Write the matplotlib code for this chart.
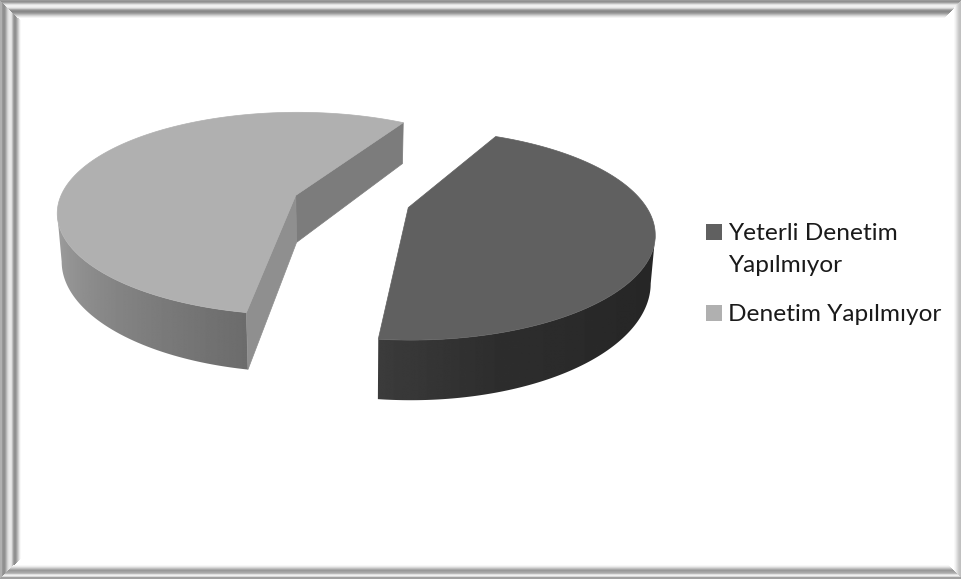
import numpy as np
import matplotlib
matplotlib.use('Agg')
import matplotlib.pyplot as plt
from matplotlib.patches import Polygon, Rectangle

labels = ['Yeterli Denetim\nYapılmıyor', 'Denetim Yapılmıyor']
values = [44, 56]
top_colors = ['#606060', '#b0b0b0']

# frame greys, from the picture edge inwards
frame_left = [0xb0, 0xb0, 0x98, 0x90, 0x90, 0xa0, 0xb8, 0xd0, 0xe0, 0xe8, 0xe8, 0xe0, 0xc0, 0xa0, 0x90, 0x90, 0xa0, 0xb8, 0xd0, 0xe8, 0xf8]
frame_top = [0x9a, 0x90, 0xa0, 0xc0, 0xe0, 0xf0, 0xf0, 0xe8, 0xd0, 0xa8, 0x90, 0x88, 0x90, 0xa0, 0xb8, 0xd0, 0xe4, 0xf4]
frame_right = [0xc0, 0xc0, 0xc4, 0xcc, 0xd8, 0xe4, 0xf0, 0xf8]
frame_bottom = [0xa0, 0xa0, 0xd8, 0xf0, 0xe0, 0xb8, 0xa8, 0xa0, 0x98, 0xa8, 0xc0, 0xd8, 0xec, 0xf8]

# scene, in image pixels
W, H = 962, 579
cx, cy = 352, 201.5
explode_x, explode_y = 58.6, 22
rx, ry = 236.5, 98
skew = -0.008
start_angle = 27
# the two slices sit at different places in the view, so they differ a bit
persp = [0.26, 0.18]
depth = [44.5, 47]
view_turn = [0, 4.5]


def project(i, u, v, ox, oy, bottom=False):
    # pie disc coordinates -> pixels
    w = 1 + persp[i] * v + skew * u
    x = ox + rx * u / w
    y = oy - ry * v / w
    if bottom:
        x = x + (cx - x) * 0.015
        y = y + depth[i] / w
    return x, y


def wall_gray(i, ang):
    # side shading, angle clockwise from top
    if i == 0:
        return np.interp(ang, [100, 130, 165, 186], [0x26, 0x27, 0x2e, 0x3c])
    return np.interp(ang, [190, 262], [0x6c, 0xa4])


fig = plt.figure(figsize=(9.62, 5.79), dpi=100)
ax = fig.add_axes([0, 0, 1, 1])


def band(x, y, w, h, g):
    c = str(g / 255)
    ax.add_patch(Rectangle((x, y), w, h, fc=c, ec='none', antialiased=False))


for k, g in enumerate(frame_left):
    band(k, k, 1, H - 2 * k, g)
for k, g in enumerate(frame_top):
    band(k, k, W - 2 * k, 1, g)
for k, g in enumerate(frame_right):
    band(W - 1 - k, k, 1, H - 2 * k, g)
for k, g in enumerate(frame_bottom):
    band(k, H - 1 - k, W - 2 * k, 1, g)

fractions = np.array(values) / sum(values)
a0 = start_angle
for i, frac in enumerate(fractions):
    a1 = a0 + frac * 360
    mid = np.radians((a0 + a1) / 2)
    ox = cx + explode_x * np.sin(mid)
    oy = cy - explode_y * np.cos(mid)
    ang = np.linspace(a0, a1, 400) + view_turn[i]
    u = np.sin(np.radians(ang))
    v = np.cos(np.radians(ang))
    tx, ty = project(i, u, v, ox, oy)
    bx, by = project(i, u, v, ox, oy, bottom=True)
    apex_t = project(i, 0, 0, ox, oy)
    apex_b = project(i, 0, 0, ox, oy, bottom=True)

    # cut faces only show on the left slice
    if ox < cx:
        ax.add_patch(Polygon([apex_t, (tx[-1], ty[-1]), (bx[-1], by[-1]), apex_b],
                             fc='#7c7c7c', ec='#7c7c7c', lw=0.5))
        ax.add_patch(Polygon([apex_t, (tx[0], ty[0]), (bx[0], by[0]), apex_b],
                             fc='#8f8f8f', ec='#8f8f8f', lw=0.5))

    # outer wall from the cut to the widest point, gradient clipped to its shape
    if ox < cx:
        front = np.arange(len(ang)) <= np.argmin(tx)
    else:
        front = np.arange(len(ang)) >= np.argmax(tx)
    fx = tx[front]
    order = np.argsort(fx)
    xs = np.arange(np.floor(fx.min()) - 2, np.ceil(fx.max()) + 3)
    grays = np.interp(xs, fx[order], wall_gray(i, ang[front][order]))
    wall = Polygon(list(zip(tx[front], ty[front])) + list(zip(bx[front][::-1], by[front][::-1])),
                   fc='none', ec='none', transform=ax.transData)
    ax.add_patch(wall)
    ext = (xs[0], xs[-1], by[front].max() + 2, ty[front].min() - 2)
    im = ax.imshow(grays[None, :], cmap='gray', vmin=0, vmax=255, extent=ext, aspect='auto', interpolation='bilinear')
    im.set_clip_path(wall)

    ax.add_patch(Polygon([apex_t] + list(zip(tx, ty)), fc=top_colors[i], ec=top_colors[i], lw=0.5, zorder=3))
    a0 = a1

# legend
font = ['Lato', 'DejaVu Sans']
ax.add_patch(Rectangle((706, 224), 16, 16, fc=top_colors[0], ec='none'))
ax.add_patch(Rectangle((706, 305), 16, 16, fc=top_colors[1], ec='none'))
line1, line2 = labels[0].split('\n')
ax.text(728, 240.5, line1, fontsize=17.6, color='#1a1a1a', family=font, va='baseline')
ax.text(728, 272, line2, fontsize=17.6, color='#1a1a1a', family=font, va='baseline')
ax.text(728, 321, labels[1], fontsize=17.6, color='#1a1a1a', family=font, va='baseline')

ax.set_xlim(0, W)
ax.set_ylim(H, 0)
ax.axis('off')
fig.savefig('out.png', dpi=100)
